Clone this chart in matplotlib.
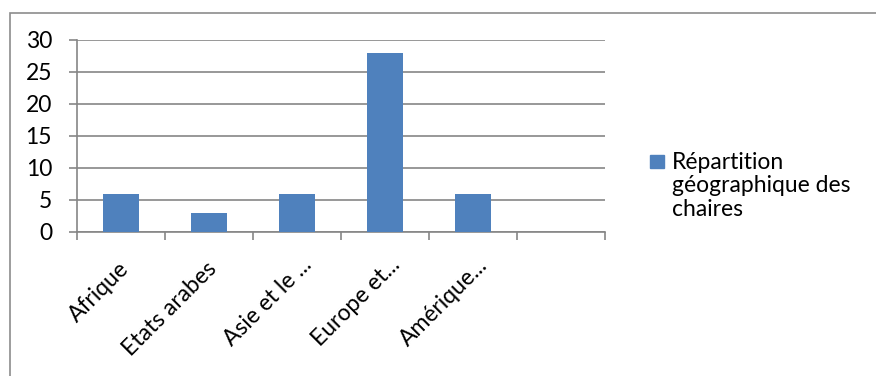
import matplotlib.pyplot as plt
import matplotlib as mpl
from matplotlib.patches import Rectangle
import numpy as np

plt.rcParams['font.family'] = ['Lato', 'DejaVu Sans']

# data
categories = ['Afrique', 'Etats arabes', 'Asie et le ...', 'Europe et...', 'Amérique...', '']
values = [6, 3, 6, 28, 6, 0]
series_name = 'Répartition\ngéographique des\nchaires'

W, H = 876, 376
fig = plt.figure(figsize=(W / 100, H / 100), dpi=100)
fs = 16.5

# chart outer border (only top and left visible)
fig.patches.append(Rectangle((10 / W, -0.1), 1.2, 1.1 - 13 / H, transform=fig.transFigure,
                             fill=False, edgecolor='#8c8c8c', lw=1.2))

ax = fig.add_axes([77 / W, 1 - 232 / H, (605 - 77) / W, (232 - 40) / H])

x = np.arange(len(categories))
ax.bar(x[:5], values[:5], width=0.4, color='#4F81BD', zorder=3)

ax.set_xlim(-0.5, len(categories) - 0.5)
ax.set_ylim(0, 30)
ax.set_yticks(np.arange(0, 31, 5))
ax.yaxis.grid(True, color='#868686', lw=1.2, zorder=0)

for s in ['top', 'right']:
    ax.spines[s].set_visible(False)
for s in ['left', 'bottom']:
    ax.spines[s].set_color('#868686')
    ax.spines[s].set_linewidth(1.2)

ax.set_xticks(np.arange(len(categories) + 1) - 0.5)
ax.set_xticklabels([])
ax.tick_params(axis='x', direction='out', length=6, color='#868686', width=1.2)
ax.tick_params(axis='y', direction='out', length=6, color='#868686', width=1.2,
               labelsize=fs, pad=12)

for i, c in enumerate(categories):
    # Excel pushes the truncated ("...") labels a little to the right
    dx, dy = (3, -16) if c.endswith('...') else (-2, -19)
    ax.annotate(c, xy=(i, 0), xycoords='data', xytext=(dx, dy), textcoords='offset points',
                rotation=45, ha='right', va='top', rotation_mode='anchor', fontsize=fs)

# legend drawn by hand, Excel style
fig.patches.append(Rectangle((650 / W, 1 - 168 / H), 14 / W, 13 / H, transform=fig.transFigure,
                             color='#4F81BD'))
fig.text(672 / W, 1 - 152 / H, series_name, ha='left', va='top', fontsize=fs,
         linespacing=1.14)

fig.savefig('out.png', dpi=100)
